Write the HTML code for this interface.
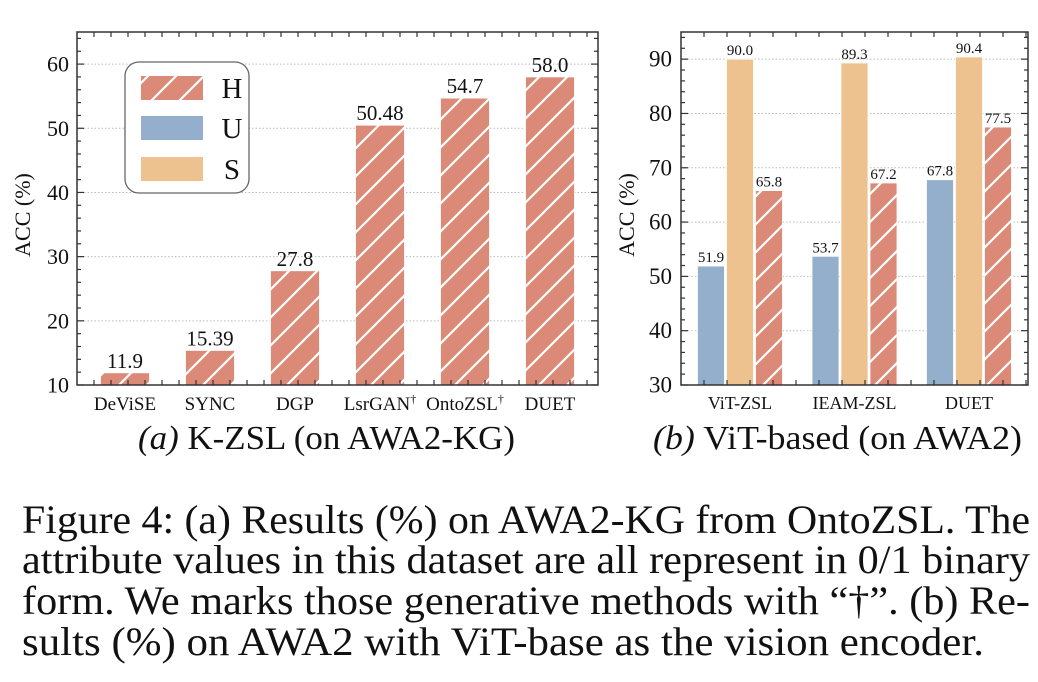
<!DOCTYPE html>
<html><head><meta charset="utf-8"><style>
body{margin:0;background:#fff;width:1038px;height:682px;overflow:hidden}
svg{display:block}
text{font-family:"Liberation Serif",serif;fill:#111}
</style></head><body>
<svg id="fig" width="1038" height="682" viewBox="0 0 1038 682" xmlns="http://www.w3.org/2000/svg">
<defs>
<pattern id="hatch" patternUnits="userSpaceOnUse" width="28" height="28">
<rect width="28" height="28" fill="#db8a78"/>
<path d="M-7,7 L7,-7 M0,28 L28,0 M21,35 L35,21" stroke="#fff" stroke-width="2.2"/>
</pattern>
</defs>
<g id="left"></g>
<g id="right"></g>
<text x="138" y="449" font-size="34" textLength="377" lengthAdjust="spacingAndGlyphs"><tspan font-style="italic">(a)</tspan> K-ZSL (on AWA2-KG)</text>
<text x="653" y="449" font-size="34" textLength="369" lengthAdjust="spacingAndGlyphs"><tspan font-style="italic">(b)</tspan> ViT-based (on AWA2)</text>
<g font-size="40">
<text x="22" y="533" textLength="1008" lengthAdjust="spacingAndGlyphs">Figure 4: (a) Results  (%) on AWA2-KG from OntoZSL. The</text>
<text x="22" y="573" textLength="1008" lengthAdjust="spacingAndGlyphs">attribute values in this dataset are all represent in 0/1 binary</text>
<text x="22" y="614" textLength="1008" lengthAdjust="spacingAndGlyphs">form. We marks those generative methods with “†”. (b) Re-</text>
<text x="22" y="655" textLength="962" lengthAdjust="spacingAndGlyphs">sults  (%) on AWA2 with ViT-base as the vision encoder.</text>
</g>
</svg>
<script>
const leftCats=["DeViSE","SYNC","DGP","LsrGAN","OntoZSL","DUET"];
const leftDagger=[false,false,false,true,true,false];
const leftH=[11.9,15.39,27.8,50.48,54.7,58.0];
const leftLabels=["11.9","15.39","27.8","50.48","54.7","58.0"];
const leftTicks=[10,20,30,40,50,60];
const rightCats=["ViT-ZSL","IEAM-ZSL","DUET"];
const rightU=[51.9,53.7,67.8];
const rightS=[90.0,89.3,90.4];
const rightH=[65.8,67.2,77.5];
const rightTicks=[30,40,50,60,70,80,90];
const NS="http://www.w3.org/2000/svg";
function mk(p,t,a,txt){const e=document.createElementNS(NS,t);for(const k in a)e.setAttribute(k,a[k]);if(txt!==undefined)e.textContent=txt;p.appendChild(e);return e;}
function frame(g,x0,x1,y0,y1,ymin,ymax,ticks,labX,tickFs){
  const ys=v=>y1-(v-ymin)/(ymax-ymin)*(y1-y0);
  ticks.forEach(v=>{const y=ys(v);
    const gl=mk(g,"line",{x1:x0,x2:x1,y1:y,y2:y,stroke:"#bbb","stroke-width":1,"stroke-dasharray":"1.5 2"});
    
    
    const t=mk(g,"text",{x:labX,y:y+7.5,"font-size":tickFs,"text-anchor":"end"},String(v));
    
    
  });
  return ys;
}
function axesTicks(g,x0,x1,y0,y1,ys,ymin,ymax,majors,minorStep,xStep){
  for(let v=ymin;v<=ymax+1e-6;v+=minorStep){const y=ys(v);const maj=majors.includes(Math.round(v*100)/100);const L=maj?7:4;
    mk(g,"line",{x1:x0,x2:x0+L,y1:y,y2:y,stroke:"#333","stroke-width":1.2});
    mk(g,"line",{x1:x1,x2:x1-L,y1:y,y2:y,stroke:"#333","stroke-width":1.2});}
  for(let x=x0+xStep;x<x1;x+=xStep){
    mk(g,"line",{x1:x,x2:x,y1:y0,y2:y0+5,stroke:"#333","stroke-width":1.2});
    mk(g,"line",{x1:x,x2:x,y1:y1,y2:y1-5,stroke:"#333","stroke-width":1.2});}
  const f=mk(g,"rect",{x:x0,y:y0,width:x1-x0,height:y1-y0,fill:"none",stroke:"#333","stroke-width":1.5});
  
  
}
// Left chart
(function(){
  const g=document.getElementById("left");
  const x0=77,x1=598,y0=32,y1=385,ymin=10,ymax=65;
  const ys=frame(g,x0,x1,y0,y1,ymin,ymax,leftTicks,69,22);
  const xc=i=>125+i*85, bw=49;
  leftH.forEach((v,i)=>{
    const r=mk(g,"rect",{x:xc(i)-bw/2,y:ys(v),width:bw,height:y1-ys(v),fill:"url(#hatch)",stroke:"#fff","stroke-width":0.8});
    
    
    const t=mk(g,"text",{x:xc(i),y:ys(v)-5,"font-size":21,"text-anchor":"middle"},leftLabels[i]);
    
    
    const c=mk(g,"text",{x:xc(i),y:410,"font-size":19,"text-anchor":"middle"},leftCats[i]);
    
    
    if(leftDagger[i]){mk(c,"tspan",{"font-size":12,dy:-7},"†");}
  });
  axesTicks(g,x0,x1,y0,y1,ys,ymin,ymax,leftTicks,2,17);
  const yl=mk(g,"text",{x:0,y:0,"font-size":22,"text-anchor":"middle",transform:"translate(30,215) rotate(-90)"},"ACC (%)");
  
  
  const lg=mk(g,"g",{});
  
  
  mk(lg,"rect",{x:125,y:62,width:124,height:131,rx:14,fill:"#fff",stroke:"#666","stroke-width":1.3});
  const ents=[["H","url(#hatch)",76],["U","#93afcc",116],["S","#edc28e",157]];
  ents.forEach(e=>{
    const en=mk(lg,"g",{});
    
    
    mk(en,"rect",{x:141,y:e[2],width:62,height:24,fill:e[1]});
    mk(en,"text",{x:232,y:e[2]+22,"font-size":29,"text-anchor":"middle"},e[0]);
  });
})();
// Right chart
(function(){
  const g=document.getElementById("right");
  const x0=681,x1=1028,y0=32,y1=385,ymin=30,ymax=95;
  const ys=frame(g,x0,x1,y0,y1,ymin,ymax,rightTicks,672,23);
  const gc=i=>740+i*114.5, bw=27, step=29;
  rightCats.forEach((c,i)=>{
    [[rightU,"#93afcc",-1,"u"],[rightS,"#edc28e",0,"s"],[rightH,"url(#hatch)",1,"h"]].forEach(s=>{
      const v=s[0][i], cx=gc(i)+s[2]*step;
      const r=mk(g,"rect",{x:cx-bw/2,y:ys(v),width:bw,height:y1-ys(v),fill:s[1],stroke:"#fff","stroke-width":0.8});
      
      
      const t=mk(g,"text",{x:cx,y:ys(v)-4,"font-size":15,"text-anchor":"middle"},v.toFixed(1));
      
      
    });
    const t=mk(g,"text",{x:gc(i),y:409,"font-size":18,"text-anchor":"middle"},c);
    
    
  });
  axesTicks(g,x0,x1,y0,y1,ys,ymin,ymax,rightTicks,2,23);
  const yl=mk(g,"text",{x:0,y:0,"font-size":22,"text-anchor":"middle",transform:"translate(634,215) rotate(-90)"},"ACC (%)");
  
  
})();
</script>
</body></html>
